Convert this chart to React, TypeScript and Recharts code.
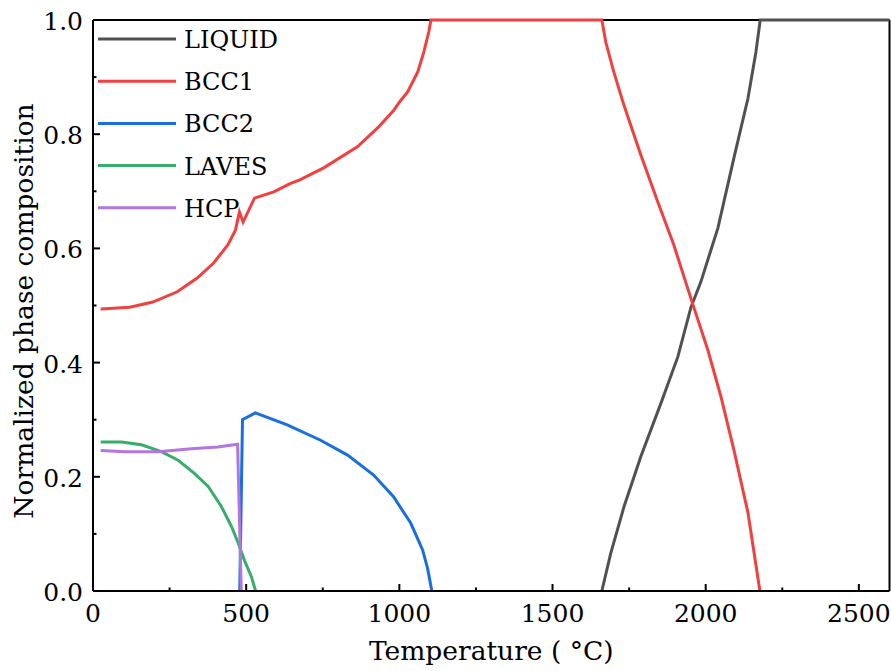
import React from 'react';
import { LineChart, Line, XAxis, YAxis, ReferenceLine } from 'recharts';

// temperatures (°C) and normalized phase fractions
const liquidTemp = [1661, 1690, 1733, 1788, 1854, 1909, 1952, 1984, 2040, 2092, 2138, 2164, 2178, 2600];
const liquidFrac = [0, 0.066, 0.147, 0.235, 0.329, 0.41, 0.497, 0.541, 0.636, 0.758, 0.863, 0.944, 1.0, 1.0];

const bcc1Temp = [25, 120, 195, 275, 340, 393, 440, 465, 478, 490, 527, 590, 645, 675, 753, 863, 929, 982, 1000, 1027, 1060, 1080, 1096, 1103, 1400, 1661, 1674, 1700, 1733, 1788, 1844, 1896, 1952, 2007, 2050, 2092, 2138, 2177];
const bcc1Frac = [0.494, 0.497, 0.506, 0.524, 0.548, 0.574, 0.606, 0.632, 0.664, 0.646, 0.688, 0.699, 0.714, 0.72, 0.741, 0.778, 0.811, 0.842, 0.856, 0.874, 0.909, 0.944, 0.979, 1.0, 1.0, 1.0, 0.961, 0.909, 0.851, 0.764, 0.681, 0.606, 0.512, 0.422, 0.34, 0.247, 0.137, 0];

const bcc2Temp = [479, 488, 530, 634, 743, 831, 916, 981, 1037, 1076, 1092, 1106];
const bcc2Frac = [0, 0.3, 0.312, 0.291, 0.264, 0.238, 0.203, 0.165, 0.119, 0.072, 0.04, 0];

const lavesTemp = [25, 93, 158, 223, 278, 331, 376, 419, 452, 474, 494, 517, 531];
const lavesFrac = [0.261, 0.261, 0.256, 0.244, 0.229, 0.206, 0.183, 0.148, 0.113, 0.084, 0.054, 0.025, 0];

const hcpTemp = [25, 103, 213, 321, 408, 472, 484];
const hcpFrac = [0.246, 0.244, 0.244, 0.249, 0.252, 0.257, 0];

const seriesNames = ['LIQUID', 'BCC1', 'BCC2', 'LAVES', 'HCP'];
const seriesColors = ['#515151', '#F14040', '#1A6FDF', '#37AD6B', '#B177DE'];

const xTicks = [0, 250, 500, 750, 1000, 1250, 1500, 1750, 2000, 2250, 2500];
const yTicks = [0, 0.1, 0.2, 0.3, 0.4, 0.5, 0.6, 0.7, 0.8, 0.9, 1.0];

const FONT = 'DejaVu Serif';
const FS = 25;
const LABEL_FS = 26.5;

const toPoints = (t: number[], v: number[]) => t.map((x, i) => ({ t: x, v: v[i] }));

const seriesData = [
  toPoints(liquidTemp, liquidFrac),
  toPoints(bcc1Temp, bcc1Frac),
  toPoints(bcc2Temp, bcc2Frac),
  toPoints(lavesTemp, lavesFrac),
  toPoints(hcpTemp, hcpFrac),
];

const XTick = ({ x, y, payload }: any) => {
  const major = payload.value % 500 === 0;
  return (
    <g>
      <line x1={x} x2={x} y1={y} y2={y - (major ? 7 : 3.5)} stroke="#000" strokeWidth={2} />
      {major && (
        <text x={x} y={y + 31} textAnchor="middle" fontFamily={FONT} fontSize={FS} fill="#000">
          {payload.value}
        </text>
      )}
    </g>
  );
};

const YTick = ({ x, y, payload }: any) => {
  const k = Math.round(payload.value * 10);
  const major = k % 2 === 0;
  return (
    <g>
      <line x1={x} x2={x + (major ? 7 : 3.5)} y1={y} y2={y} stroke="#000" strokeWidth={2} />
      {major && (
        <text x={x - 10} y={y + 10} textAnchor="end" fontFamily={FONT} fontSize={FS} fill="#000">
          {payload.value.toFixed(1)}
        </text>
      )}
    </g>
  );
};

const LegendBox = () => (
  <svg width={220} height={210} style={{ position: 'absolute', left: 90, top: 18 }}>
    {seriesNames.map((name, i) => {
      const cy = 21 + i * 42.2;
      return (
        <g key={name}>
          <line x1={8} x2={86} y1={cy} y2={cy} stroke={seriesColors[i]} strokeWidth={3} />
          <text x={94} y={cy + 9} fontFamily={FONT} fontSize={24} fill="#000">
            {name}
          </text>
        </g>
      );
    })}
  </svg>
);

export default function App() {
  return (
    <div style={{ position: 'absolute', left: 0, top: 0, width: 891, height: 671, background: '#fff' }}>
      <LineChart width={891} height={671} margin={{ top: 20, right: 1.5, bottom: 0, left: 0 }}>
        <XAxis
          dataKey="t"
          type="number"
          domain={[0, 2600]}
          ticks={xTicks}
          interval={0}
          height={80}
          tickSize={0}
          tickMargin={0}
          tickLine={false}
          tick={<XTick />}
          axisLine={{ stroke: '#000', strokeWidth: 2 }}
          allowDuplicatedCategory={false}
          label={{
            content: ({ viewBox }: any) => (
              <text x={viewBox.x + viewBox.width / 2} y={660} textAnchor="middle" fontFamily={FONT} fontSize={LABEL_FS} fill="#000">
                Temperature ( °C)
              </text>
            ),
          }}
        />
        <YAxis
          type="number"
          domain={[0, 1]}
          ticks={yTicks}
          interval={0}
          width={93}
          tickSize={0}
          tickMargin={0}
          tickLine={false}
          tick={<YTick />}
          axisLine={{ stroke: '#000', strokeWidth: 2 }}
          label={{
            content: () => (
              <text x={33} y={311} transform="rotate(-90 33 311)" textAnchor="middle" fontFamily={FONT} fontSize={LABEL_FS} fill="#000">
                Normalized phase composition
              </text>
            ),
          }}
        />
        <ReferenceLine y={1} stroke="#000" strokeWidth={2} />
        <ReferenceLine x={2600} stroke="#000" strokeWidth={2} />
        {seriesNames.map((name, i) => (
          <Line
            key={name}
            name={name}
            data={seriesData[i]}
            dataKey="v"
            type="linear"
            stroke={seriesColors[i]}
            strokeWidth={3}
            dot={false}
            activeDot={false}
            isAnimationActive={false}
          />
        ))}
      </LineChart>
      <LegendBox />
    </div>
  );
}
